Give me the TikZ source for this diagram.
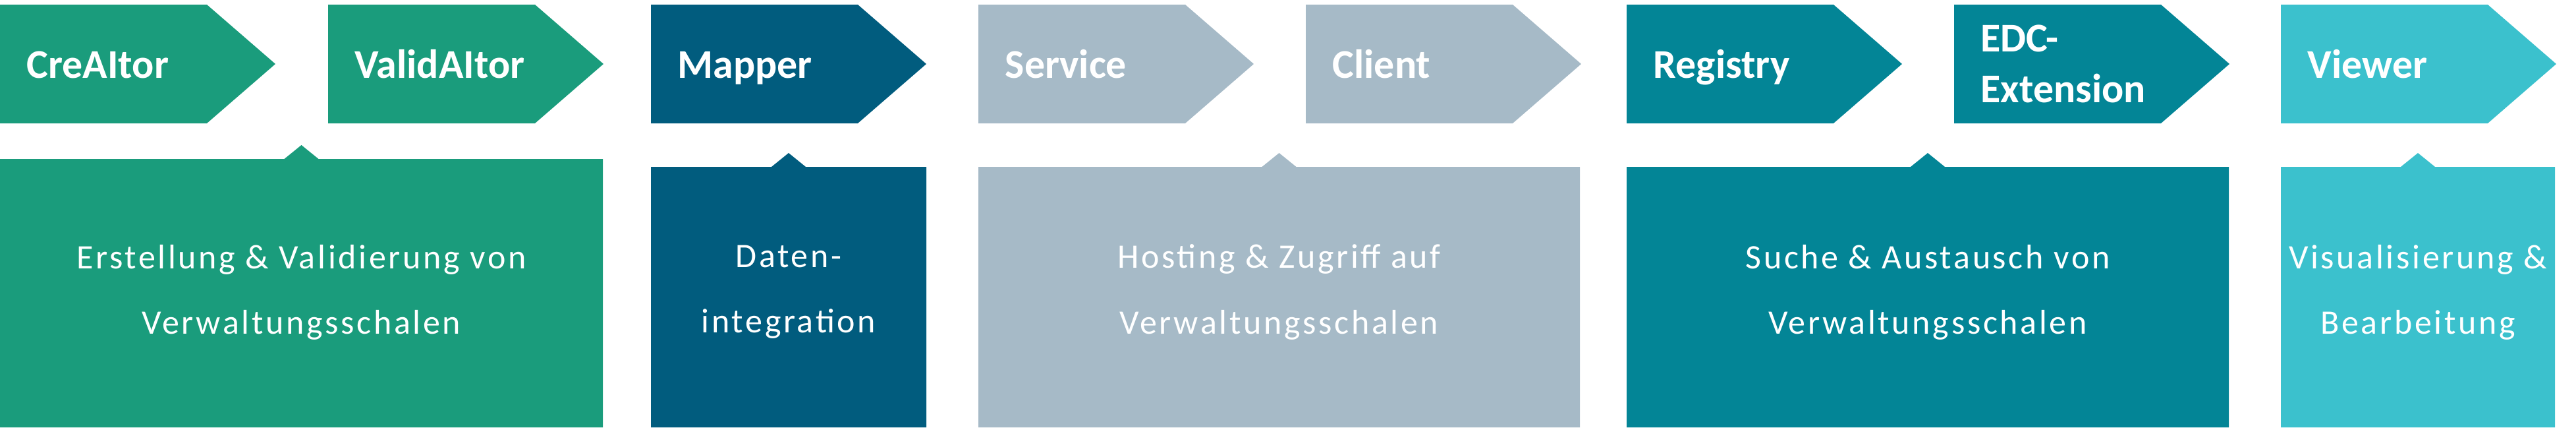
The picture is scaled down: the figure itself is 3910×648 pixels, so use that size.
\documentclass[tikz,border=0pt]{standalone}
\usepackage{fontspec}
\setmainfont{Carlito}
\newfontfamily\taskfont[LetterSpace=7]{Carlito}
\definecolor{aasgreen}{HTML}{1A9C7C}
\definecolor{aasdark}{HTML}{015C7E}
\definecolor{aasgrey}{HTML}{A6BAC7}
\definecolor{aasteal}{HTML}{038596}
\definecolor{aascyan}{HTML}{3BC1CD}
% chevron: left x, colour
\newcommand{\chevronat}[2]{\fill[#2] (#1,7) -- ++(314,0) -- ++(104,90) -- ++(-104,90) -- ++(-314,0) -- cycle;}
% box with a small peak on top: left x, right x, top y, colour
\newcommand{\calloutat}[4]{\fill[#4] (#1,#3) -- ({(#1+#2)/2-26},#3) -- ({(#1+#2)/2},{#3-21}) -- ({(#1+#2)/2+26},#3) -- (#2,#3) -- (#2,648) -- (#1,648) -- cycle;}
\tikzset{
  tool/.style={anchor=base west,text=white,inner sep=0pt,font=\fontsize{17.6}{21.9}\selectfont\bfseries},
  task/.style={align=center,text=white,inner sep=0pt,font=\taskfont\fontsize{14.8}{28.2}\selectfont}
}

\begin{document}
\begin{tikzpicture}[x=0.01cm,y=-0.01cm]
\useasboundingbox (0,0) rectangle (3910,648);

\chevronat{0}{aasgreen}
\chevronat{498}{aasgreen}
\chevronat{988}{aasdark}
\chevronat{1485}{aasgrey}
\chevronat{1982}{aasgrey}
\chevronat{2469}{aasteal}
\chevronat{2966}{aasteal}
\chevronat{3462}{aascyan}

\calloutat{0}{915}{241}{aasgreen}
\calloutat{988}{1406}{253}{aasdark}
\calloutat{1485}{2398}{253}{aasgrey}
\calloutat{2469}{3383}{253}{aasteal}
\calloutat{3462}{3878}{253}{aascyan}

\node[tool] (creaitor) at (40,118) {CreAItor};
\node[tool] (validaitor) at (538,118) {ValidAItor};
\node[tool] (mapper) at (1028,118) {Mapper};
\node[tool] (service) at (1525,118) {Service};
\node[tool] (client) at (2022,118) {Client};
\node[tool] (registry) at (2509,118) {Registry};
\node[tool,anchor=west,align=left] (edc) at (3006,97) {EDC-\\Extension};
\node[tool] (viewer) at (3502,118) {Viewer};

\node[task] (erstellung) at (457.5,443) {Erstellung \& Validierung von\\Verwaltungsschalen};
\node[task] (daten) at (1197,443) {Daten-\\integration};
\node[task] (hosting) at (1941.5,443) {Hosting \& Zugriff auf\\Verwaltungsschalen};
\node[task] (suche) at (2926,443) {Suche \& Austausch von\\Verwaltungsschalen};
\node[task] (visual) at (3670,443) {Visualisierung \&\\Bearbeitung};

\end{tikzpicture}
\end{document}
